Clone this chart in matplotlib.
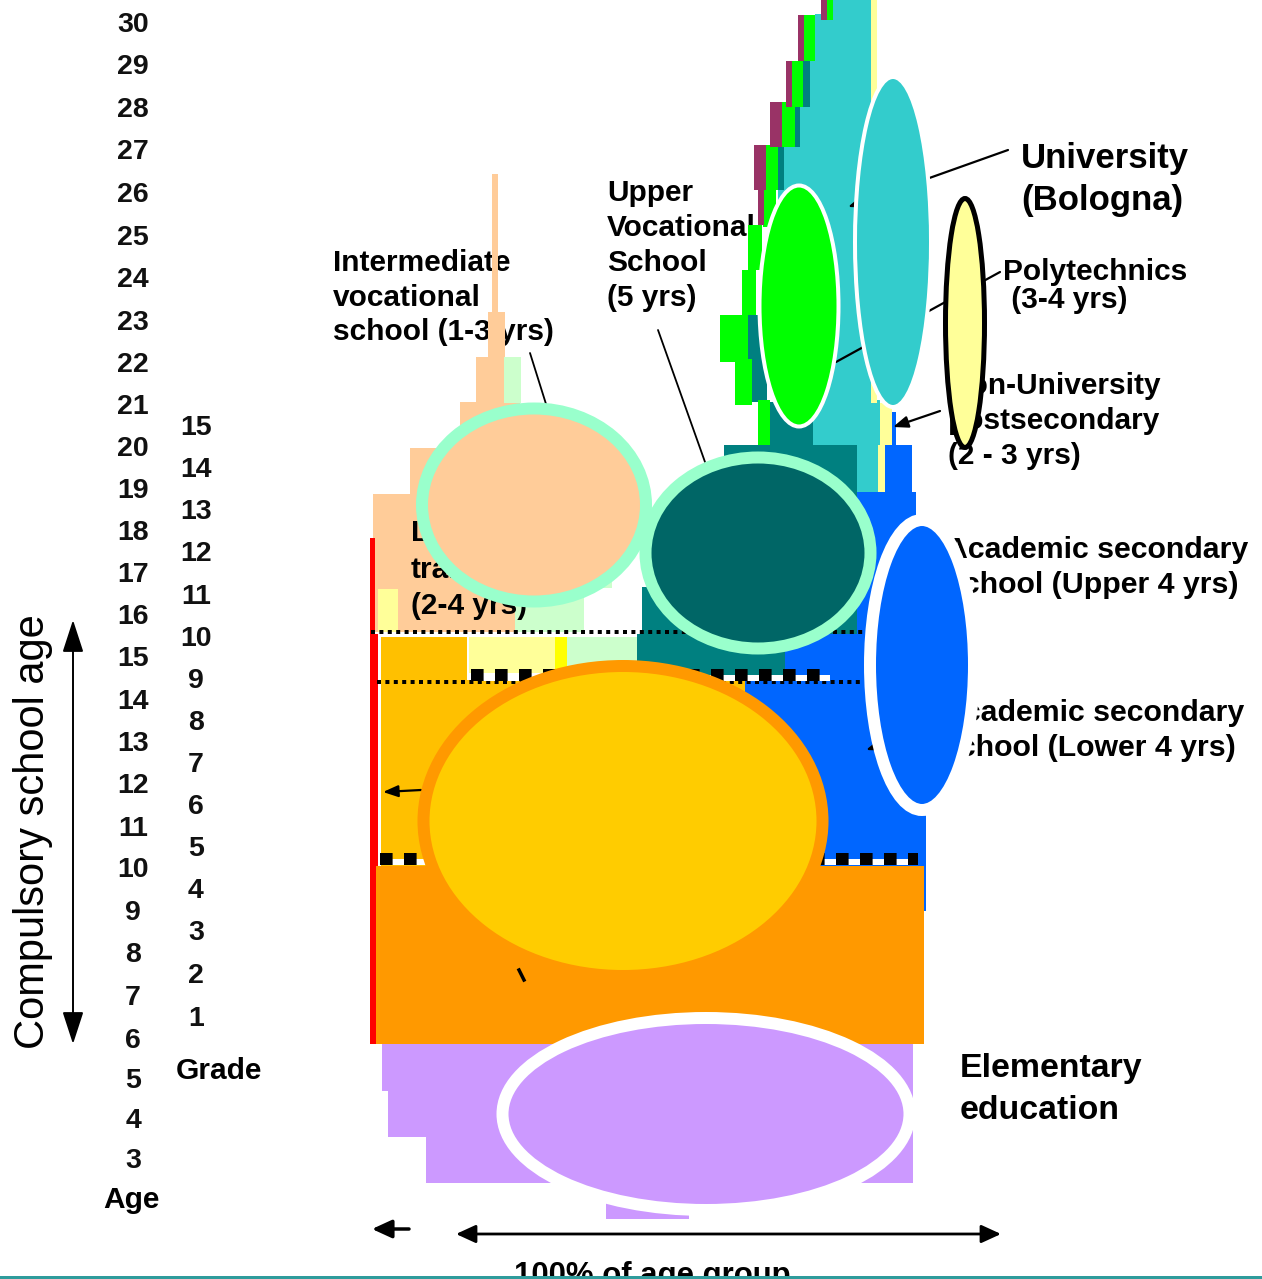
import matplotlib.pyplot as plt
from matplotlib.patches import Ellipse

# canvas is laid out in pixels of the original picture (y grows downward)
W, H = 1262, 1279
PT = 0.72  # one pixel in points at dpi 100

# stepped blocks, each (left, right, top, bottom)
cyan_univ = [(833, 872, 0, 15), (815, 872, 14, 61), (803, 872, 60, 105),
             (795, 872, 104, 148), (778, 872, 147, 445), (857, 880, 400, 492)]
teal_upper_voc = [(803, 810, 61, 107), (795, 800, 104, 147), (778, 784, 147, 190),
                  (770, 776, 190, 230), (748, 767, 315, 402), (770, 813, 402, 445),
                  (724, 857, 445, 634), (642, 724, 587, 634), (637, 785, 634, 680)]
green_poly = [(827, 833, 0, 20), (804, 815, 15, 61), (792, 803, 61, 107),
              (782, 795, 102, 147), (766, 778, 145, 190), (763, 776, 190, 227),
              (748, 762, 225, 270), (742, 756, 270, 315), (720, 748, 315, 362),
              (735, 752, 359, 405), (758, 770, 400, 445)]
plum_post = [(821, 827, 0, 20), (798, 804, 15, 61), (786, 792, 61, 107),
             (770, 782, 102, 147), (754, 766, 145, 190), (758, 764, 190, 225)]
ltyellow_nonuni = [(871, 877, 0, 403), (880, 892, 403, 445), (878, 885, 445, 492)]
blue_academic = [(892, 896, 412, 445), (885, 912, 445, 492), (857, 916, 492, 634),
                 (785, 916, 634, 680), (745, 926, 680, 866), (913, 926, 866, 911)]
peach_voc = [(492, 498, 174, 312), (488, 505, 312, 357), (476, 504, 357, 402),
             (460, 520, 402, 448), (410, 600, 448, 494), (373, 612, 494, 588),
             (373, 515, 588, 632)]
ltgreen = [(504, 521, 357, 403), (515, 584, 588, 632), (584, 612, 545, 588),
           (567, 637, 637, 680)]
ltyellow_low = [(378, 398, 589, 632), (469, 555, 637, 673)]
yellow_low = [(555, 567, 637, 680)]
gold_lower = [(381, 467, 637, 866), (381, 745, 680, 866), (376, 382, 866, 910)]
orange_basic = [(375, 924, 866, 1044)]
red_special = [(370, 375, 538, 634), (370, 378, 634, 866), (370, 376, 866, 1044)]
lilac_elem = [(382, 913, 1044, 1091), (388, 913, 1091, 1137),
              (426, 913, 1137, 1183), (606, 689, 1183, 1219)]

block_layers = [
    (cyan_univ, '#33CCCC'), (teal_upper_voc, '#008080'), (green_poly, '#00FF00'),
    (plum_post, '#993366'), (ltyellow_nonuni, '#FFFF99'), (blue_academic, '#0066FF'),
    (peach_voc, '#FFCC99'), (ltgreen, '#CCFFCC'), (ltyellow_low, '#FFFF99'),
    (yellow_low, '#FFFF00'), (gold_lower, '#FFC000'), (orange_basic, '#FF9900'),
    (red_special, '#FF0000'), (lilac_elem, '#CC99FF'),
]

# ovals: centre x, centre y, width, height, fill, edge, edge px
oval_names = ['elementary', 'lower_sec', 'intermediate', 'upper_voc',
              'academic', 'poly', 'university', 'nonuni']
oval_cx = [706, 623, 534, 758, 922, 799, 893, 965]
oval_cy = [1114, 821, 505, 553, 665, 306, 242, 323]
oval_w = [407, 399, 224, 225, 104, 79, 76, 39]
oval_h = [192, 310, 193, 191, 290, 241, 330, 249]
oval_fill = ['#CC99FF', '#FFCC00', '#FFCC99', '#006666', '#0066FF', '#00FF00', '#33CCCC', '#FFFF99']
oval_edge = ['white', '#FF9900', '#99FFCC', '#99FFCC', 'white', 'white', 'white', 'black']
oval_lw = [12, 12, 12, 12, 12, 4, 4, 5]

ages = list(range(30, 2, -1))
age_y = [22, 64, 107, 149, 192, 235, 277, 320, 362, 404, 446, 488, 530, 572,
         614, 656, 699, 741, 783, 826, 867, 910, 952, 995, 1038, 1078, 1118, 1158]
grades = list(range(15, 0, -1))
grade_y = [425, 467, 509, 551, 594, 636, 678, 720, 762, 804, 846, 888, 930, 973, 1016]

fig = plt.figure(figsize=(W / 100, H / 100), dpi=100)
ax = fig.add_axes([0, 0, 1, 1])
ax.set_xlim(0, W)
ax.set_ylim(H, 0)
ax.axis('off')

FONT = 'Liberation Sans'

for blocks, col in block_layers:
    lefts = [b[0] for b in blocks]
    widths = [b[1] - b[0] for b in blocks]
    tops = [b[2] for b in blocks]
    heights = [b[3] - b[2] for b in blocks]
    ax.bar(lefts, heights, width=widths, bottom=tops, align='edge',
           color=col, linewidth=0, zorder=2)

# dotted grade boundaries
ax.plot([371, 864], [632, 632], color='black', lw=4 * PT, ls=(0, (1, 1.1)),
        dash_capstyle='butt', zorder=3)
ax.plot([377, 864], [682, 682], color='black', lw=4 * PT, ls=(0, (1, 1.1)),
        dash_capstyle='butt', zorder=3)
# heavy black/white dashed lines
for x0, x1, y in [(471, 830, 675), (380, 918, 859)]:
    ax.plot([x0, x1], [y + 3, y + 3], color='white', lw=6 * PT, zorder=3,
            solid_capstyle='butt')
    ax.plot([x0, x1], [y, y], color='black', lw=12 * PT, ls=(0, (1.05, 0.95)),
            dash_capstyle='butt', zorder=3.1)

# pointer lines and arrows (under the ovals)
def pointer(x0, y0, x1, y1, head=True, lw=1.6):
    style = '-|>,head_length=0.9,head_width=0.35' if head else '-'
    ax.annotate('', xy=(x1, y1), xytext=(x0, y0),
                arrowprops=dict(arrowstyle=style, color='black', lw=lw,
                                mutation_scale=10, shrinkA=0, shrinkB=0),
                zorder=4)

pointer(1008, 150, 848, 207)
pointer(1000, 272, 836, 362, head=False)
pointer(940, 411, 893, 427)
pointer(948, 722, 866, 750)
pointer(421, 790, 383, 792)
pointer(530, 353, 546, 404, head=False, lw=1.3)
pointer(658, 330, 705, 462, head=False, lw=1.3)
ax.plot([519, 524], [970, 980], color='black', lw=2.5, zorder=4)

for i in range(len(oval_names)):
    ax.add_patch(Ellipse((oval_cx[i], oval_cy[i]), oval_w[i], oval_h[i],
                         facecolor=oval_fill[i], edgecolor=oval_edge[i],
                         lw=oval_lw[i] * PT, zorder=6))

# labels: (lines, x, first baseline, line step, size, zorder)
labels = [
    (['University', '(Bologna)'], 1021, 168, 42, 25, 1.5),
    (['Polytechnics', ' (3-4 yrs)'], 1003, 280, 28, 21.5, 1.5),
    (['Non-University', 'postsecondary', '(2 - 3 yrs)'], 948, 394, 35, 21.5, 1.5),
    (['Academic secondary', 'school (Upper 4 yrs)'], 946, 558, 35, 21.8, 1.5),
    (['Academic secondary', 'school (Lower 4 yrs)'], 942, 721, 35, 21.8, 1.5),
    (['Elementary', 'education'], 960, 1077, 42, 24.4, 1.5),
    (['Upper', 'Vocational', 'School', '(5 yrs)'], 607, 201, 35, 21.5, 1.5),
    (['Intermediate', 'vocational', 'school (1-3 yrs)'], 333, 271, 34.5, 21.5, 1.5),
    (['Lower vocational', 'training', '(2-4 yrs)'], 411, 541, 36.5, 21.5, 2.5),
]
for lines, x, y0, step, size, z in labels:
    for k, line in enumerate(lines):
        ax.text(x, y0 + k * step, line, ha='left', va='baseline', fontsize=size,
                fontweight='bold', family=FONT, color='black', zorder=z)

for a, y in zip(ages, age_y):
    ax.text(133, y + 10, str(a), ha='center', va='baseline', fontsize=20.5,
            fontweight='bold', family=FONT, color='#111111')
for g, y in zip(grades, grade_y):
    ax.text(196, y + 10, str(g), ha='center', va='baseline', fontsize=20.5,
            fontweight='bold', family=FONT, color='#111111')
ax.text(131, 1208, 'Age', ha='center', va='baseline', fontsize=21.5,
        fontweight='bold', family=FONT)
ax.text(219, 1079, 'Grade', ha='center', va='baseline', fontsize=21.5,
        fontweight='bold', family=FONT)
ax.text(33, 832, 'Compulsory school age', rotation=90, ha='center', va='center',
        fontsize=30, family=FONT)
ax.annotate('', xy=(73, 620), xytext=(73, 1044),
            arrowprops=dict(arrowstyle='<|-|>,head_length=2.0,head_width=0.65',
                            color='black', lw=1.4, mutation_scale=10,
                            shrinkA=0, shrinkB=0))

# bottom scale arrows
ax.annotate('', xy=(456, 1234), xytext=(1001, 1234),
            arrowprops=dict(arrowstyle='<|-|>,head_length=1.2,head_width=0.55',
                            color='black', lw=2, mutation_scale=10,
                            shrinkA=0, shrinkB=0))
ax.annotate('', xy=(372, 1229), xytext=(409, 1229),
            arrowprops=dict(arrowstyle='-|>,head_length=1.2,head_width=0.55',
                            color='black', lw=2.5, mutation_scale=10,
                            shrinkA=0, shrinkB=0))
# the reference cuts this caption at the bottom edge
ax.text(652, 1284, '100% of age group', ha='center', va='baseline', fontsize=22.4,
        fontweight='bold', family=FONT, clip_on=False)
ax.plot([0, W], [1277, 1277], color='#2F9C9C', lw=3 * PT, zorder=7)

fig.savefig('out.png', dpi=100)
